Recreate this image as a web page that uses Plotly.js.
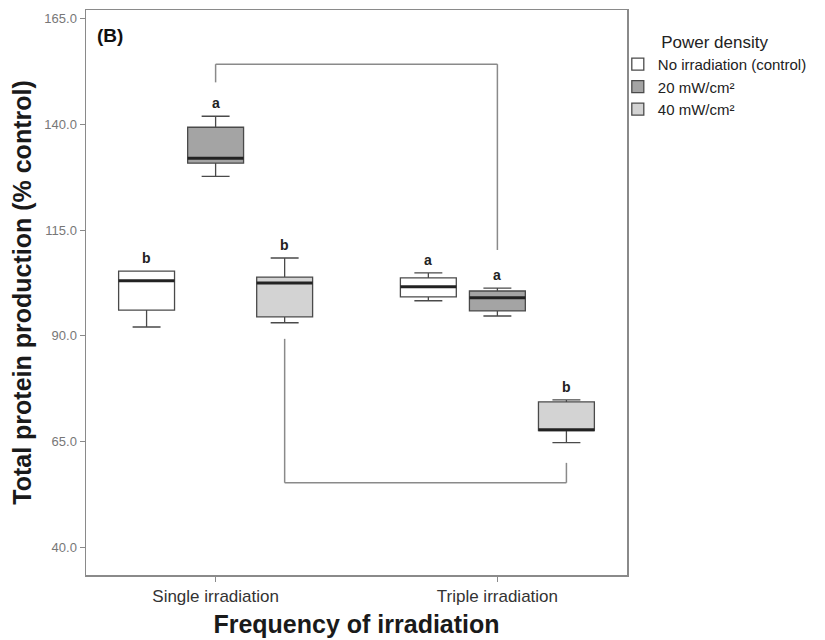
<!DOCTYPE html>
<html><head><meta charset="utf-8">
<script src="https://cdn.plot.ly/plotly-3.0.1.min.js"></script>
<style>html,body{margin:0;padding:0;background:#fff}#chart{width:825px;height:640px}</style>
</head><body><div id="chart"></div>
<script>
// ---- data ----
const categories = ['Single irradiation', 'Triple irradiation'];
const seriesNames = ['No irradiation (control)', '20 mW/cm²', '40 mW/cm²'];

const controlMin    = [92.1, 98.3];
const controlQ1     = [96.1, 99.2];
const controlMedian = [103.0, 101.6];
const controlQ3     = [105.3, 103.7];
const controlMax    = [105.3, 104.9];

const mw20Min    = [127.7, 94.7];
const mw20Q1     = [130.8, 95.9];
const mw20Median = [132.0, 99.0];
const mw20Q3     = [139.3, 100.6];
const mw20Max    = [141.9, 101.3];

const mw40Min    = [93.1, 64.8];
const mw40Q1     = [94.5, 67.6];
const mw40Median = [102.5, 67.8];
const mw40Q3     = [103.9, 74.4];
const mw40Max    = [108.4, 74.9];

const controlLetters = ['b', 'a'];
const mw20Letters    = ['a', 'a'];
const mw40Letters    = ['b', 'b'];

const yTickVals = [40, 65, 90, 115, 140, 165];

// comparison brackets: [left end, bar level, right end]
const bracket20 = [149.9, 154.2, 110.3];
const bracket40 = [89.3, 55.3, 60.0];

// ---- styling ----
const fills = ['#ffffff', '#a4a4a4', '#d3d3d3'];
const BOXGAP = 0.265, GROUPGAP = 0.19;
const FONT = 'Liberation Sans, Arial, sans-serif';

const series = [
  {min: controlMin, q1: controlQ1, med: controlMedian, q3: controlQ3, max: controlMax, letters: controlLetters},
  {min: mw20Min, q1: mw20Q1, med: mw20Median, q3: mw20Q3, max: mw20Max, letters: mw20Letters},
  {min: mw40Min, q1: mw40Q1, med: mw40Median, q3: mw40Q3, max: mw40Max, letters: mw40Letters}
];

const N = series.length;
const halfW = 0.5 * (1 - BOXGAP) * (1 - GROUPGAP) / N;
const offset = i => (-0.5 + (i + 0.5) / N) * (1 - BOXGAP);

const traces = series.map((s, i) => ({
  type: 'box',
  name: seriesNames[i],
  x: categories,
  q1: s.q1, median: s.med, q3: s.q3,
  lowerfence: s.min, upperfence: s.max,
  boxpoints: false,
  fillcolor: fills[i],
  line: {color: '#4a4a4a', width: 1.3},
  whiskerwidth: 0.5,
  hoverinfo: 'skip'
}));

const shapes = [];
const annotations = [];
series.forEach((s, i) => {
  categories.forEach((c, j) => {
    const xc = j + offset(i);
    shapes.push({type: 'line', xref: 'x', yref: 'y', x0: xc - halfW, x1: xc + halfW,
      y0: s.med[j], y1: s.med[j], line: {color: '#222', width: 3}});
    annotations.push({xref: 'x', yref: 'y', x: xc, y: s.max[j], text: s.letters[j],
      showarrow: false, yanchor: 'middle', yshift: 13,
      font: {family: FONT, size: 14, color: '#222', weight: 'bold'}});
  });
});

function bracket(seriesIdx, b) {
  const xl = 0 + offset(seriesIdx), xr = 1 + offset(seriesIdx);
  const ln = {color: '#8a8a8a', width: 1.5};
  shapes.push({type: 'line', xref: 'x', yref: 'y', x0: xl, x1: xl, y0: b[0], y1: b[1], line: ln});
  shapes.push({type: 'line', xref: 'x', yref: 'y', x0: xl, x1: xr, y0: b[1], y1: b[1], line: ln});
  shapes.push({type: 'line', xref: 'x', yref: 'y', x0: xr, x1: xr, y0: b[1], y1: b[2], line: ln});
}
bracket(1, bracket20);
bracket(2, bracket40);

annotations.push({xref: 'paper', yref: 'paper', x: 0.016, y: 0.955, xanchor: 'left', yanchor: 'middle',
  text: '(B)', showarrow: false, font: {family: FONT, size: 19, color: '#111', weight: 'bold'}});

const layout = {
  width: 825, height: 640,
  margin: {l: 86, r: 198, t: 10, b: 65},
  paper_bgcolor: '#ffffff', plot_bgcolor: '#ffffff',
  font: {family: FONT},
  boxmode: 'group', boxgap: BOXGAP, boxgroupgap: GROUPGAP,
  showlegend: true,
  legend: {
    x: 0.983, xanchor: 'left', y: 0.972, yanchor: 'top',
    title: {text: 'Power density', side: 'top center', font: {family: FONT, size: 17, color: '#222'}},
    font: {family: FONT, size: 15, color: '#222'},
    bgcolor: 'rgba(0,0,0,0)', borderwidth: 0, tracegroupgap: 0
  },
  xaxis: {
    type: 'category', range: [-0.46, 1.46],
    showline: true, mirror: true, linecolor: '#8a8a8a', linewidth: 1.5,
    ticks: 'outside', ticklen: 5, tickcolor: '#8a8a8a',
    tickfont: {family: FONT, size: 17, color: '#333'},
    title: {text: 'Frequency of irradiation', standoff: 10, font: {family: FONT, size: 25, color: '#1a1a1a', weight: 'bold'}},
    showgrid: false, zeroline: false
  },
  yaxis: {
    range: [33.5, 167], tickvals: yTickVals, tickformat: '.1f',
    showline: true, mirror: true, linecolor: '#8a8a8a', linewidth: 1.5,
    ticks: 'outside', ticklen: 5, tickcolor: '#8a8a8a',
    tickfont: {family: FONT, size: 13, color: '#777'},
    title: {text: 'Total protein production (% control)', standoff: 5, font: {family: FONT, size: 25, color: '#1a1a1a', weight: 'bold'}},
    showgrid: false, zeroline: false
  },
  shapes: shapes,
  annotations: annotations
};

Plotly.newPlot('chart', traces, layout, {displayModeBar: false, staticPlot: true});
</script>
</body></html>
